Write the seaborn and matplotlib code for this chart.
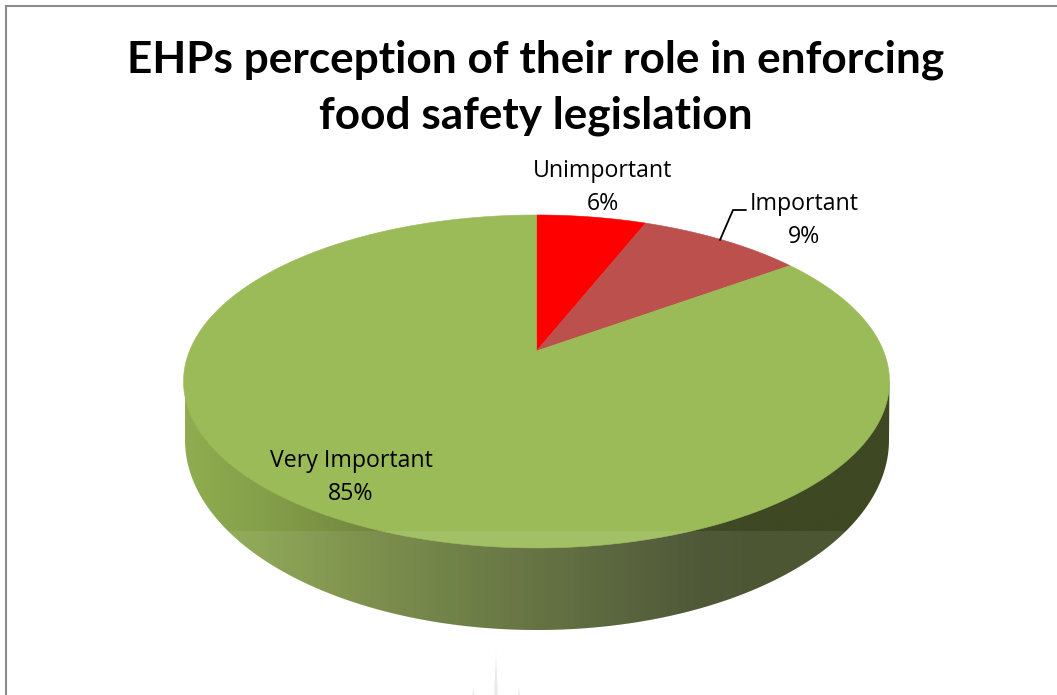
import numpy as np
import matplotlib
matplotlib.use("Agg")
import matplotlib.pyplot as plt
from matplotlib.colors import LinearSegmentedColormap
from matplotlib.patches import Polygon, Rectangle
import seaborn as sns

# Survey results
categories = ["Unimportant", "Important", "Very Important"]
shares = [6, 9, 85]
slice_colors = ["#ff0000", "#bc504d", "#9bbb59"]

title_lines = ["EHPs perception of their role in enforcing", "food safety legislation"]

sns.set_theme(style="white")
plt.rcParams["font.family"] = ["Open Sans", "DejaVu Sans"]

W, H = 1057, 695
fig = plt.figure(figsize=(W / 100, H / 100), dpi=100)
ax = fig.add_axes([0, 0, 1, 1])
ax.set_xlim(0, W)
ax.set_ylim(H, 0)
ax.axis("off")

# Tilted disc: a unit circle seen in perspective, measured in pixels
CX, APEX_Y = 536.5, 351.0
SCALE_X, SCALE_Y, TILT = 347.0, 160.9, 0.183
# Lower rim of the disc
RIM_CX, RIM_CY, RIM_RX, RIM_RY = 537.0, 440.0, 352.0, 190.0
BAND_Y = 530.5


def project(frac):
    """Map a clockwise fraction of the full circle onto the tilted disc."""
    t = 2 * np.pi * np.asarray(frac)
    u, v = np.sin(t), np.cos(t)
    d = 1 + TILT * v
    return CX + SCALE_X * u / d, APEX_Y - SCALE_Y * v / d


# Outer wall: lower half of the rim joined up to the disc's widest points
t = np.linspace(0, np.pi, 400)
wall_x = RIM_CX - RIM_RX * np.cos(t)
wall_y = RIM_CY + RIM_RY * np.sin(t)
fx, fy = project(np.linspace(0, 1, 721))
left = np.argmin(fx)
right = np.argmax(fx)
wall_xy = np.vstack([
    [fx[left], fy[left]],
    np.column_stack([wall_x, wall_y]),
    [fx[right], fy[right]],
])
wall_patch = Polygon(wall_xy, closed=True, facecolor="none", edgecolor="none")
ax.add_patch(wall_patch)

# Side shading runs from lit green on the left to dark olive on the right
wall_stops = [
    (0.000, "#8fad50"),
    (0.106, "#85a04a"),
    (0.262, "#73873f"),
    (0.498, "#596935"),
    (0.730, "#414b29"),
    (0.816, "#3e4822"),
    (1.000, "#3e4822"),
]
wall_cmap = LinearSegmentedColormap.from_list("wall", wall_stops)
gradient = np.linspace(0, 1, 512).reshape(1, -1)
img = ax.imshow(gradient, cmap=wall_cmap, extent=(185, 890, 640, 370),
                aspect="auto", zorder=1, interpolation="bilinear")
img.set_clip_path(wall_patch)
ax.set_xlim(0, W)
ax.set_ylim(H, 0)

# Pie slices on the top face, each spanning its share of the circle
edges = np.cumsum([0] + shares) / 100
for start, stop, color in zip(edges[:-1], edges[1:], slice_colors):
    n = max(int((stop - start) * 720), 2)
    px, py = project(np.linspace(start, stop, n))
    ax.fill(np.r_[CX, px], np.r_[APEX_Y, py], facecolor=color, edgecolor=color,
            lw=0.4, zorder=2)

# Pale sheen across the lower part of the disc
sheen = Rectangle((150, BAND_Y), 780, 120, facecolor="white", alpha=0.08,
                  lw=0, zorder=3)
ax.add_patch(sheen)
sheen.set_clip_path(wall_patch)

# Faint page decoration under the chart
for tip_x, tip_y, half_width in [(496, 652, 1.9), (473.5, 687, 1.0), (519, 687, 1.0)]:
    ax.fill([tip_x - half_width, tip_x, tip_x + half_width], [H, tip_y, H],
            color="#ebebeb", lw=0, zorder=1)

# Title
for line, y in zip(title_lines, [72, 129]):
    ax.text(536, y, line, ha="center", va="baseline", fontsize=31.8, fontweight="bold",
            family=["Lato", "DejaVu Sans"], color="black", zorder=5)

# Slice labels
label_xy = [(603, 177), (804, 210), (351, 467)]
for name, share, (x, y) in zip(categories, shares, label_xy):
    ax.text(x, y, name, ha="center", va="baseline", fontsize=16.7, color="black", zorder=5)
    ax.text(x, y + 33, f"{share}%", ha="center", va="baseline", fontsize=16.7,
            color="black", zorder=5)

# Leader from the Important label to its slice
ax.plot([720, 733, 746], [240, 210, 210], color="black", lw=1.3, zorder=5)

# Chart frame: only the top and left edges fall inside the canvas
ax.plot([6, 6, W + 2], [H + 2, 6, 6], color="#8c8c8c", lw=1.5, zorder=6,
        solid_joinstyle="miter")

fig.savefig("out.png", dpi=100, facecolor="white")
